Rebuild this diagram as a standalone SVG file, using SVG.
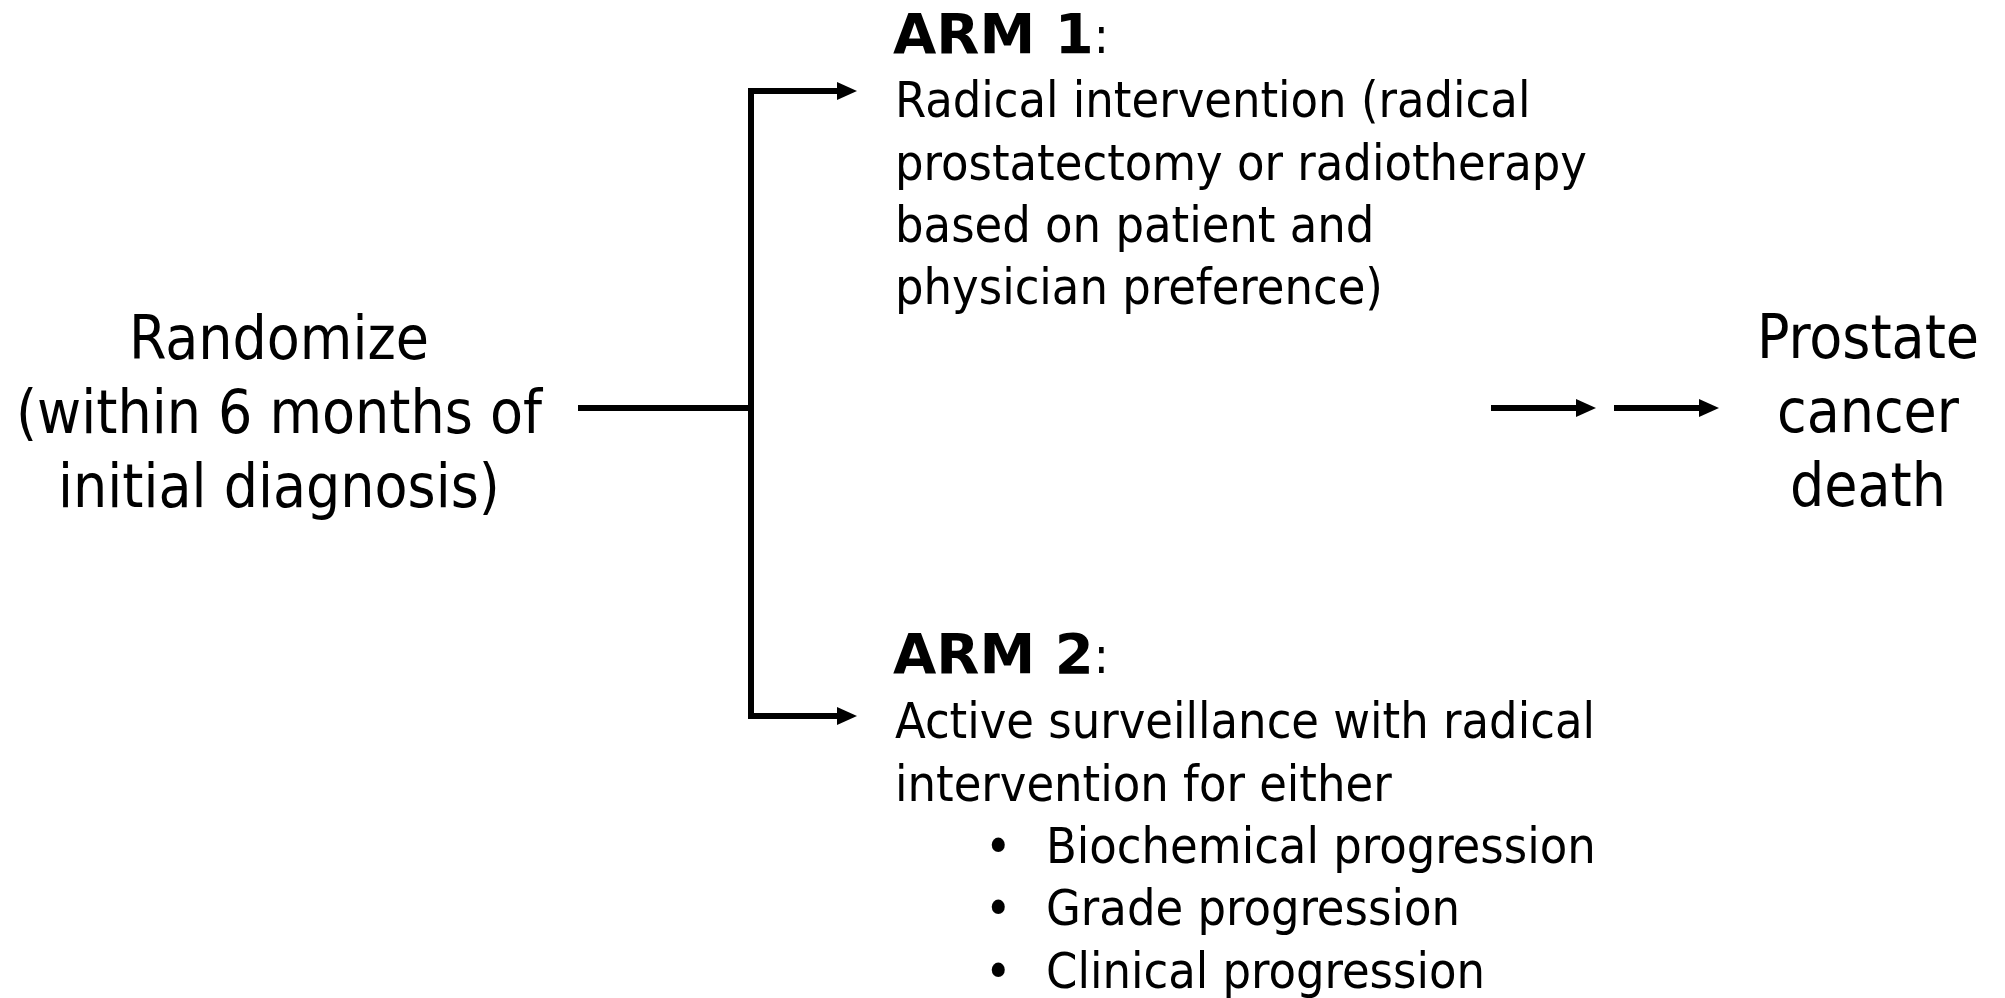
<svg xmlns="http://www.w3.org/2000/svg" width="2005" height="998" viewBox="0 0 2005 998">
<defs>
<marker id="ah" markerUnits="userSpaceOnUse" markerWidth="21" markerHeight="20" viewBox="0 0 21 20" refX="1" refY="10" orient="auto-start-reverse">
<path d="M0,1 L20,10 L0,19 Z" fill="#000"/>
</marker>
</defs>
<style>
.t{font-family:"DejaVu Sans Condensed","DejaVu Sans",sans-serif;font-stretch:condensed;fill:#000}
.big{font-size:60px}
.body{font-size:50px}
.b{font-family:"DejaVu Sans","Liberation Sans",sans-serif;font-stretch:normal;font-weight:bold;font-size:56px}
.ln{stroke:#000;stroke-width:6;fill:none;stroke-linejoin:miter}
</style>
<rect width="2005" height="998" fill="#fff"/>
<g id="connectors">
<path class="ln" d="M578,408 H751"/>
<path class="ln" d="M838,91 H751 V716 H838" marker-start="url(#ah)" marker-end="url(#ah)"/>
<path class="ln" d="M1491,408 H1577" marker-end="url(#ah)"/>
<path class="ln" d="M1614,408 H1700" marker-end="url(#ah)"/>
</g>
<g id="randomize">
<text class="t big" text-anchor="middle" x="279" y="359">Randomize</text>
<text class="t big" text-anchor="middle" x="279" y="433">(within 6 months of</text>
<text class="t big" text-anchor="middle" x="279" y="507">initial diagnosis)</text>
</g>
<g id="arm1">
<text class="t body" x="893" y="53"><tspan class="b">ARM 1</tspan>:</text>
<text class="t body" x="895" y="117">Radical intervention (radical</text>
<text class="t body" x="895" y="180">prostatectomy or radiotherapy</text>
<text class="t body" x="895" y="242">based on patient and</text>
<text class="t body" x="895" y="304">physician preference)</text>
</g>
<g id="arm2">
<text class="t body" x="893" y="673"><tspan class="b">ARM 2</tspan>:</text>
<text class="t body" x="895" y="738">Active surveillance with radical</text>
<text class="t body" x="895" y="801">intervention for either</text>
<text class="t body" x="985" y="863">•</text>
<text class="t body" x="1046" y="863">Biochemical progression</text>
<text class="t body" x="985" y="925">•</text>
<text class="t body" x="1046" y="925">Grade progression</text>
<text class="t body" x="985" y="988">•</text>
<text class="t body" x="1046" y="988">Clinical progression</text>
</g>
<g id="outcome">
<text class="t big" text-anchor="middle" x="1868" y="358">Prostate</text>
<text class="t big" text-anchor="middle" x="1868" y="432">cancer</text>
<text class="t big" text-anchor="middle" x="1868" y="506">death</text>
</g>
</svg>
